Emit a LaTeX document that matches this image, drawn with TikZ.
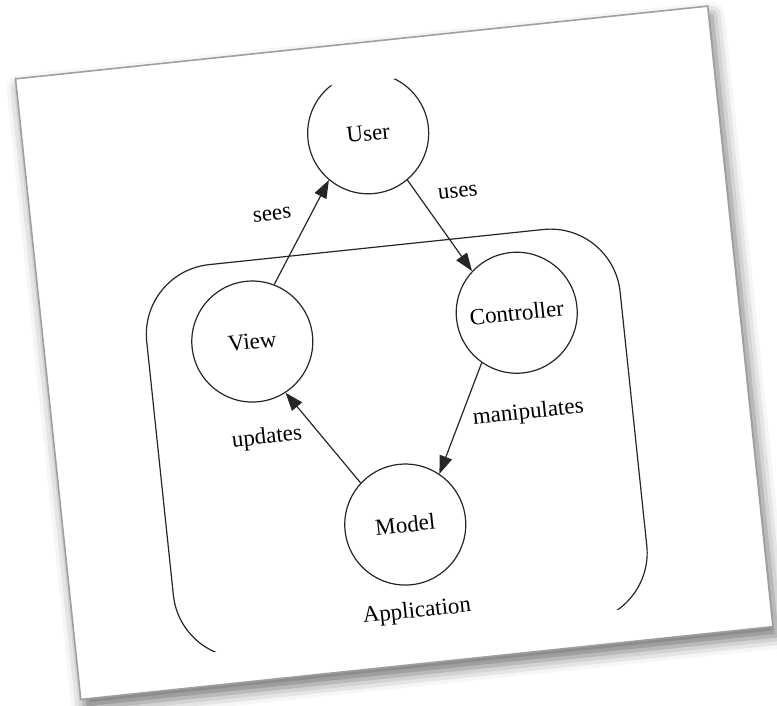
\documentclass[tikz,border=0pt]{standalone}
\usepackage{fontspec}
\setmainfont{Liberation Serif}
\usetikzlibrary{arrows.meta,shadows.blur}

\begin{document}
\begin{tikzpicture}[x=1pt,y=1pt,
  state/.style={circle, draw=black!85, line width=1.2pt, minimum size=121pt,
    inner sep=0pt, font=\fontsize{23}{26}\selectfont},
  lbl/.style={inner sep=0pt, font=\fontsize{23}{26}\selectfont},
  link/.style={draw=black!85, line width=1.2pt,
    -{Triangle[length=18pt,width=13pt]}},
  appbox/.style={draw=black!85, line width=1.2pt, rounded corners=70pt},
  sheet/.style={fill=white, draw=gray!75, line width=1.6pt,
    blur shadow={shadow xshift=4pt, shadow yshift=-9pt,
      shadow blur radius=13pt, shadow opacity=55}},
]
\useasboundingbox (0,-705) rectangle (777,0);
\begin{scope}[shift={(394.25,-352.75)}, rotate=6, transform shape]
  % the tilted sheet
  \path[sheet] (-348,-312) rectangle (348,312);
  \begin{scope}
    \clip (-340,-279) rectangle (340,272.5);
    % application boundary
    \draw[appbox] (-245,-288) rectangle (231,107);
    \node[lbl] (app) at (-4.5,-260) {Application};
    % components
    \node[state] (user) at (-3,221) {User};
    \node[state] (view) at (-140,26) {View};
    \node[state] (ctrl) at (126,27) {Controller};
    \node[state] (model) at (-7,-172) {Model};
    % relations
    \draw[link] (view.63) -- (user.224);
    \draw[link] (user.-56) -- (ctrl.131);
    \draw[link] (ctrl.229) -- (model.50);
    \draw[link] (model.131) -- (view.-63);
    \node[lbl] (sees) at (-107,150) {sees};
    \node[lbl] (uses) at (80,153) {uses};
    \node[lbl] (manip) at (127,-74) {manipulates};
    \node[lbl] (upd) at (-135.5,-71.5) {updates};
  \end{scope}
\end{scope}
\end{tikzpicture}
\end{document}
